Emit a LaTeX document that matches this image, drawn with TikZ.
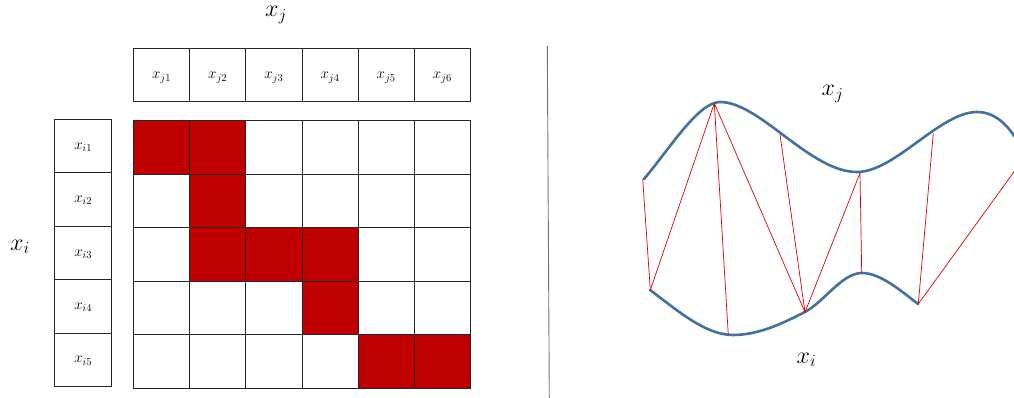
\RequirePackage{fix-cm}
\documentclass[tikz,border=0pt]{standalone}
\definecolor{cellred}{RGB}{192,0,0}
\definecolor{curveblue}{RGB}{65,113,158}
\definecolor{linkred}{RGB}{220,0,0}
\tikzset{
  cell/.style={draw=black!85, line width=0.9pt, minimum width=56.2pt, minimum height=53.45pt, inner sep=0pt, anchor=north west},
  hot/.style={cell, fill=cellred},
  small/.style={inner sep=0pt, font=\fontsize{15}{15}\selectfont},
  biglabel/.style={inner sep=0pt, anchor=base west, font=\fontsize{24}{24}\selectfont},
  curve/.style={draw=curveblue, line width=2.6pt, line cap=round},
  link/.style={draw=linkred, line width=0.7pt},
  sep/.style={draw=black!55, line width=0.9pt}
}
\begin{document}
\begin{tikzpicture}[x=1pt,y=-1pt]
\useasboundingbox (0,0) rectangle (1014,398);
% header row
\foreach \c in {1,...,6}{
  \node[cell] (h\c) at ({133+(\c-1)*56.17},47.7) {};
  \node[small, yshift=-3pt] (ht\c) at (h\c.center) {$x_{j\c}$};
}
% left column
\foreach \r in {1,...,5}{
  \node[cell, minimum width=57pt] (v\r) at (54.3,{119+(\r-1)*53.4}) {};
  \node[small, yshift=-1pt] (vt\r) at (v\r.center) {$x_{i\r}$};
}
% grid
\foreach \r in {1,...,5}
  \foreach \c in {1,...,6}
    \node[cell] (g\r\c) at ({133+(\c-1)*56.17},{120.3+(\r-1)*53.48}) {};
\foreach \r/\c in {1/1,1/2,2/2,3/2,3/3,3/4,4/4,5/5,5/6}
  \node[hot] (r\r\c) at ({133+(\c-1)*56.17},{120.3+(\r-1)*53.48}) {};
% big labels
\node[biglabel] (xj) at (265,17) {$x_j$};
\node[biglabel] (xi) at (10,250) {$x_i$};
% separator
\coordinate (s1) at (547.3,46);
\coordinate (s2) at (549.3,398);
\draw[sep] (s1) -- (s2);
% right side labels
\node[biglabel] (xj2) at (821.5,96) {$x_j$};
\node[biglabel] (xi2) at (796.5,363) {$x_i$};
% curves
\draw[curve] (644,179) .. controls (668,151) and (698,102) .. (720,102)
  .. controls (760,102) and (810,172) .. (857,172)
  .. controls (895,172) and (940,112) .. (977,112)
  .. controls (995,112) and (1008,125) .. (1018,142);
\draw[curve] (650,290) .. controls (677,310) and (705,335) .. (733,335)
  .. controls (760,335) and (785,322) .. (805,312)
  .. controls (825,301) and (842,273) .. (862,273)
  .. controls (880,273) and (900,290) .. (918,304);
% correspondence points
\coordinate (u0) at (642.7,179);
\coordinate (u1) at (714.3,103.3);
\coordinate (u2) at (780,134.5);
\coordinate (u3) at (860,173);
\coordinate (u4) at (933.3,133.3);
\coordinate (u5) at (1016,169);
\coordinate (l1) at (650.3,290);
\coordinate (l2) at (728.3,335);
\coordinate (l3) at (805,312.3);
\coordinate (l4) at (861.7,273.3);
\coordinate (l5) at (918.3,304);
\draw[link] (u0) -- (l1);
\draw[link] (l1) -- (u1);
\draw[link] (u1) -- (l2);
\draw[link] (u1) -- (l3);
\draw[link] (u2) -- (l3);
\draw[link] (l3) -- (u3);
\draw[link] (u3) -- (l4);
\draw[link] (u4) -- (l5);
\draw[link] (l5) -- (u5);
\end{tikzpicture}
\end{document}
